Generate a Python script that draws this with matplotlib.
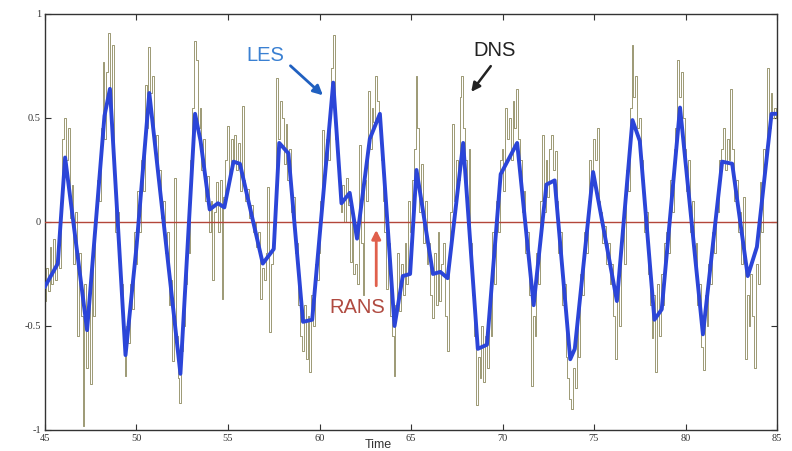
import numpy as np
import matplotlib
matplotlib.use("Agg")
import matplotlib.pyplot as plt

# LES curve vertices (time, value)
les_t = [45.0, 45.7, 46.1, 47.3, 48.25, 48.55, 49.4, 50.0, 50.7, 52.4,
         53.2, 53.5, 54.0, 54.45, 54.8, 55.3, 55.65, 56.9, 57.5, 57.8,
         58.3, 59.1, 59.6, 60.75, 61.2, 61.65, 62.05, 62.75, 63.3, 64.1,
         64.55, 64.95, 65.3, 66.2, 66.6, 67.0, 67.85, 68.65, 69.15, 69.9,
         70.8, 71.7, 72.4, 72.85, 73.7, 73.95, 74.95, 76.25, 77.1, 77.5,
         78.3, 78.7, 79.7, 80.95, 82.0, 82.55, 83.4, 83.9, 84.7, 85.0]
les_v = [-0.31, -0.20, 0.31, -0.52, 0.51, 0.64, -0.64, -0.12, 0.62, -0.73,
         0.52, 0.39, 0.06, 0.09, 0.07, 0.29, 0.28, -0.20, -0.13, 0.38,
         0.33, -0.48, -0.47, 0.67, 0.09, 0.14, -0.08, 0.40, 0.52, -0.50,
         -0.26, -0.25, 0.25, -0.25, -0.24, -0.27, 0.38, -0.61, -0.59, 0.23,
         0.38, -0.40, 0.18, 0.20, -0.66, -0.61, 0.24, -0.38, 0.49, 0.39,
         -0.47, -0.42, 0.55, -0.54, 0.29, 0.28, -0.26, -0.12, 0.52, 0.52]

# DNS samples, one every 0.1 time units from 45.0 to 85.0 (one row per unit)
dns_t0, dns_dt = 45.0, 0.1
dns_v = [
    -0.38, -0.22, -0.33, -0.12, -0.30, -0.08, -0.28, -0.15, -0.22, 0.10,   # 45
    0.40, 0.50, 0.30, 0.45, 0.02, 0.18, -0.20, 0.05, -0.55, -0.15,         # 46
    -0.45, -0.98, -0.30, -0.70, -0.35, -0.78, -0.20, -0.45, 0.05, 0.20,    # 47
    0.10, 0.45, 0.77, 0.40, 0.72, 0.91, 0.55, 0.85, 0.20, -0.05,           # 48
    0.05, -0.25, -0.30, -0.55, -0.74, -0.50, -0.58, -0.30, -0.42, -0.05,   # 49
    -0.20, 0.15, -0.05, 0.30, 0.15, 0.66, 0.45, 0.84, 0.62, 0.70,          # 50
    0.35, 0.42, 0.18, 0.25, 0.02, 0.10, -0.15, -0.05, -0.40, -0.28,        # 51
    -0.67, 0.21, -0.55, -0.75, -0.87, -0.62, -0.50, -0.30, -0.05, -0.15,   # 52
    0.30, 0.55, 0.87, 0.78, 0.45, 0.55, 0.25, 0.40, 0.10, 0.22,            # 53
    -0.05, 0.10, -0.28, 0.05, 0.19, -0.05, 0.20, -0.37, 0.12, 0.30,        # 54
    0.46, 0.22, 0.40, 0.30, 0.42, 0.25, 0.38, 0.15, 0.56, 0.20,            # 55
    0.10, 0.16, 0.02, 0.08, -0.05, 0.00, -0.12, -0.05, -0.37, -0.22,       # 56
    -0.28, -0.15, 0.17, -0.53, -0.20, -0.05, 0.15, 0.69, 0.40, 0.58,       # 57
    0.50, 0.28, 0.47, 0.20, 0.35, 0.05, 0.12, -0.15, -0.10, -0.40,         # 58
    -0.55, -0.62, -0.40, -0.66, -0.45, -0.72, -0.35, -0.50, -0.20, -0.28,  # 59
    -0.15, 0.10, 0.44, 0.25, 0.40, 0.30, 0.55, 0.74, 0.90, 0.40,           # 60
    0.30, 0.15, 0.05, 0.18, 0.00, 0.21, 0.08, -0.19, 0.05, -0.25,          # 61
    -0.20, -0.30, 0.37, -0.10, -0.35, 0.20, 0.10, 0.63, 0.35, 0.55,        # 62
    0.48, 0.70, 0.58, 0.45, 0.30, 0.10, -0.05, -0.32, -0.10, -0.45,        # 63
    -0.55, -0.74, -0.40, -0.15, -0.43, -0.20, -0.35, -0.10, -0.30, 0.10,   # 64
    -0.05, 0.20, 0.35, 0.70, 0.45, 0.05, 0.28, -0.10, 0.10, -0.20,         # 65
    -0.10, -0.35, -0.46, -0.15, -0.40, -0.05, -0.38, -0.20, -0.10, -0.45,  # 66
    -0.62, -0.20, 0.05, 0.47, 0.10, 0.30, 0.20, 0.60, 0.70, 0.45,          # 67
    0.30, 0.05, 0.35, -0.10, -0.35, -0.55, -0.88, -0.65, -0.75, -0.50,     # 68
    -0.77, -0.55, -0.70, -0.40, -0.55, -0.05, -0.30, 0.10, -0.05, 0.30,    # 69
    0.35, 0.15, 0.55, 0.40, 0.50, 0.30, 0.58, 0.45, 0.64, 0.40,            # 70
    0.30, 0.05, 0.15, -0.15, -0.05, -0.35, -0.79, -0.45, -0.55, -0.15,     # 71
    -0.30, 0.10, 0.42, 0.05, 0.30, 0.12, 0.35, 0.42, 0.25, 0.34,           # 72
    0.10, -0.15, -0.05, -0.40, -0.30, -0.65, -0.75, -0.85, -0.90, -0.70,   # 73
    -0.80, -0.45, -0.65, -0.25, -0.35, -0.05, -0.15, 0.10, 0.30, 0.20,     # 74
    0.40, 0.30, 0.45, 0.10, 0.05, -0.10, -0.02, -0.20, -0.10, -0.30,       # 75
    -0.20, -0.45, -0.66, -0.30, -0.50, -0.10, 0.00, -0.20, 0.25, 0.15,     # 76
    0.55, 0.85, 0.60, 0.70, 0.45, 0.50, 0.30, 0.20, -0.05, 0.05,           # 77
    -0.25, -0.40, -0.56, -0.35, -0.72, -0.30, -0.55, -0.25, -0.40, -0.10,  # 78
    -0.05, -0.15, 0.20, 0.05, 0.35, 0.45, 0.78, 0.60, 0.72, 0.50,          # 79
    0.35, 0.15, 0.30, -0.05, 0.10, -0.20, -0.10, -0.40, -0.30, -0.60,      # 80
    -0.71, -0.35, -0.50, -0.20, -0.30, -0.05, -0.15, 0.10, 0.05, 0.30,     # 81
    0.35, 0.45, 0.25, 0.40, 0.30, 0.64, 0.35, 0.10, 0.20, -0.05,           # 82
    0.05, -0.20, 0.12, -0.66, -0.35, -0.50, -0.25, -0.45, -0.70, -0.20,    # 83
    -0.30, 0.19, -0.05, 0.35, 0.30, 0.74, 0.45, 0.62, 0.50, 0.55,          # 84
    0.50,
]
dns_t = dns_t0 + dns_dt * np.arange(len(dns_v))

rans_t = [45, 85]
rans_v = [0.0, 0.0]

xticks = [45, 50, 55, 60, 65, 70, 75, 80, 85]
yticks = [-1, -0.5, 0, 0.5, 1]
ytick_labels = ['-1', '-0.5', '0', '0.5', '1']

fig = plt.figure(figsize=(7.92, 4.51), dpi=100)
ax = fig.add_axes([0.0568, 0.0466, 0.9243, 0.9224])

# DNS drawn as a step trace so the samples read as thin vertical spikes
ax.plot(dns_t, dns_v, color='#9c9974', lw=0.7, drawstyle='steps-mid', zorder=2)
ax.plot(rans_t, rans_v, color='#b3473a', lw=1.0, zorder=3)
ax.plot(les_t, les_v, color='#2b45d8', lw=2.8, solid_joinstyle='round', zorder=4)

ax.set_xlim(45, 85)
ax.set_ylim(-1, 1)
ax.set_xticks(xticks)
ax.set_xticklabels([str(t) for t in xticks])
ax.set_yticks(yticks)
ax.set_yticklabels(ytick_labels)
ax.tick_params(direction='in', top=True, right=True, length=4, width=0.8,
               labelsize=7.5, pad=3, colors='#333333')
for lbl in ax.get_xticklabels() + ax.get_yticklabels():
    lbl.set_fontfamily('Liberation Serif')
for s in ax.spines.values():
    s.set_color('#333333')
    s.set_linewidth(1.0)

ax.text(0.455, -0.051, 'Time', transform=ax.transAxes, ha='center', va='bottom',
        fontsize=9, color='#333333', family='Liberation Sans')

# annotations
ax.annotate('', xy=(60.3, 0.60), xytext=(58.3, 0.76),
            arrowprops=dict(arrowstyle='-|>', color='#2060c0', lw=2.0,
                            mutation_scale=14))
ax.text(57.05, 0.80, 'LES', color='#3a80d2', fontsize=14.5, ha='center',
        va='center', family='Liberation Sans')

ax.annotate('', xy=(68.2, 0.615), xytext=(69.45, 0.76),
            arrowprops=dict(arrowstyle='-|>', color='#222222', lw=1.8,
                            mutation_scale=13))
ax.text(69.55, 0.825, 'DNS', color='#222222', fontsize=14.5, ha='center',
        va='center', family='Liberation Sans')

ax.annotate('', xy=(63.1, -0.025), xytext=(63.1, -0.32),
            arrowprops=dict(arrowstyle='-|>', color='#e0604c', lw=2.0,
                            mutation_scale=13))
ax.text(62.05, -0.41, 'RANS', color='#b04a40', fontsize=14.5, ha='center',
        va='center', family='Liberation Sans')

fig.savefig('out.png', dpi=100)
plt.close(fig)
